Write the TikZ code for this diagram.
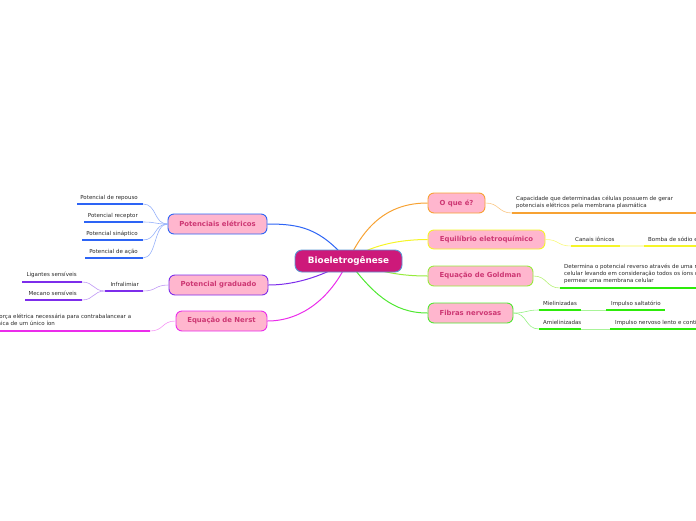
\documentclass[tikz,border=0pt]{standalone}
\usepackage{fontspec}
\setmainfont{DejaVu Sans}
\definecolor{corange}{RGB}{247,162,51}
\definecolor{cyellow}{RGB}{245,245,40}
\definecolor{cgreenA}{RGB}{150,235,60}
\definecolor{cgreenB}{RGB}{80,232,50}
\definecolor{cgreenL}{RGB}{45,235,10}
\definecolor{cblue}{RGB}{45,100,245}
\definecolor{cpurple}{RGB}{125,45,235}
\definecolor{cmagenta}{RGB}{235,45,235}
\definecolor{pinkfill}{RGB}{255,182,206}
\definecolor{maintext}{RGB}{205,55,115}
\definecolor{centralfill}{RGB}{205,25,122}
\definecolor{centralborder}{RGB}{90,150,210}
\definecolor{leaftext}{RGB}{40,40,40}
\begin{document}
\begin{tikzpicture}[x=1pt,y=-1pt,
  mainnode/.style={rounded corners=6pt, fill=pinkfill, line width=0.9pt, minimum height=20pt, text=maintext, font=\fontsize{6.9}{8}\selectfont\bfseries, inner sep=0pt},
  leaf/.style={font=\fontsize{5.5}{6.8}\selectfont, text=leaftext, inner sep=0pt, align=left},
  uline/.style={line width=1.7pt},
  conn/.style={line width=1pt},
  lconn/.style={line width=0.6pt}]
\useasboundingbox (0,0) rectangle (696,520);
\clip (0,0) rectangle (696,520);

% ---------- main nodes ----------
\coordinate (c) at (348,261);
\node[mainnode, draw=corange, minimum width=57pt] (oque) at (456.5,203) {O que é?};
\node[mainnode, draw=cyellow, minimum width=117pt, minimum height=19pt] (equil) at (486.5,239.5) {Equilíbrio eletroquímico};
\node[mainnode, draw=cgreenA, minimum width=105pt] (gold) at (480.5,276) {Equação de Goldman};
\node[mainnode, draw=cgreenB, minimum width=85pt] (fib) at (470.5,313) {Fibras nervosas};
\node[mainnode, draw=cblue, minimum width=99pt] (pot) at (217.5,224) {Potenciais elétricos};
\node[mainnode, draw=cpurple, minimum width=99pt] (grad) at (218.5,285) {Potencial graduado};
\node[mainnode, draw=cmagenta, minimum width=91pt] (nerst) at (221.5,321) {Equação de Nerst};

\draw[conn, corange] (c) .. controls (365,225) and (388,203) .. (oque.west);
\draw[conn, cyellow] (c) .. controls (370,245) and (400,239.5) .. (equil.west);
\draw[conn, cgreenA] (c) .. controls (380,272) and (400,276) .. (gold.west);
\draw[conn, cgreenB] (c) .. controls (372,292) and (392,313) .. (fib.west);
\draw[conn, cblue] (c) .. controls (320,228) and (300,224) .. (pot.east);
\draw[conn, cpurple] (c) .. controls (320,278) and (292,285) .. (grad.east);
\draw[conn, cmagenta] (c) .. controls (330,300) and (300,321) .. (nerst.east);

\node[rounded corners=7pt, fill=centralfill, draw=centralborder, line width=0.9pt, minimum width=107pt, minimum height=22pt, inner sep=0pt, text=white, font=\fontsize{8.8}{10}\selectfont\bfseries] (central) at (348.5,261) {Bioeletrogênese};

% ---------- O que é? ----------
\coordinate (oqa) at (512,213); \coordinate (oqb) at (700,213);
\draw[lconn, corange!60] (oque.east) .. controls +(14,0) and +(-14,0) .. (oqa);
\draw[uline, corange] (oqa) -- (oqb);
\node[leaf, anchor=north west] (oqt) at (516,196.3) {Capacidade que determinadas células possuem de gerar\\potenciais elétricos pela membrana plasmática};

% ---------- Equilibrio ----------
\coordinate (caa) at (571,246); \coordinate (cab) at (620,246);
\coordinate (boa) at (644,246); \coordinate (bob) at (700,246);
\draw[lconn, cyellow!60] (equil.east) .. controls +(14,0) and +(-14,0) .. (caa);
\draw[uline, cyellow] (caa) -- (cab);
\draw[uline, cyellow!30] (cab) -- (boa);
\draw[uline, cyellow] (boa) -- (bob);
\node[leaf, anchor=base west] (cat) at (575,241) {Canais iônicos};
\node[leaf, anchor=base west] (bot) at (648,241) {Bomba de sódio e potássio};

% ---------- Goldman ----------
\coordinate (goa) at (560,288); \coordinate (gob) at (700,288);
\draw[lconn, cgreenA!70] (gold.east) .. controls +(14,0) and +(-14,0) .. (goa);
\draw[uline, cgreenL] (goa) -- (gob);
\node[leaf, anchor=north west] (got) at (564,264.3) {Determina o potencial reverso através de uma membrana\\celular levando em consideração todos os íons capazes de\\permear uma membrana celular};

% ---------- Fibras ----------
\coordinate (mia) at (539,310); \coordinate (mib) at (581,310);
\coordinate (saa) at (606,310); \coordinate (sab) at (665,310);
\coordinate (ama) at (539,329); \coordinate (amb) at (581,329);
\coordinate (lea) at (610,329); \coordinate (leb) at (700,329);
\draw[lconn, cgreenB!60] (fib.east) .. controls +(14,0) and +(-14,0) .. (mia);
\draw[lconn, cgreenB!60] (fib.east) .. controls +(14,0) and +(-14,0) .. (ama);
\draw[uline, cgreenL] (mia) -- (mib);
\draw[lconn, cgreenB!50] (mib) -- (saa);
\draw[uline, cgreenL] (saa) -- (sab);
\draw[uline, cgreenL] (ama) -- (amb);
\draw[lconn, cgreenB!50] (amb) -- (lea);
\draw[uline, cgreenL] (lea) -- (leb);
\node[leaf, anchor=base west] (mit) at (543,305) {Mielinizadas};
\node[leaf, anchor=base west] (sat) at (611,305) {Impulso saltatório};
\node[leaf, anchor=base west] (amt) at (543,324) {Amielinizadas};
\node[leaf, anchor=base west] (let) at (615,324) {Impulso nervoso lento e contínuo};

% ---------- Potenciais eletricos ----------
\coordinate (p1a) at (77,204); \coordinate (p1b) at (143,204);
\coordinate (p2a) at (84,222); \coordinate (p2b) at (143,222);
\coordinate (p3a) at (82,240); \coordinate (p3b) at (143,240);
\coordinate (p4a) at (85,258); \coordinate (p4b) at (143,258);
\foreach \i in {1,2,3,4}{
  \draw[lconn, cblue!50] (pot.west) .. controls +(-14,0) and +(14,0) .. (p\i b);
  \draw[uline, cblue] (p\i a) -- (p\i b);
}
\node[leaf, anchor=base east] (p1t) at (138,199) {Potencial de repouso};
\node[leaf, anchor=base east] (p2t) at (138,217) {Potencial receptor};
\node[leaf, anchor=base east] (p3t) at (138,235) {Potencial sináptico};
\node[leaf, anchor=base east] (p4t) at (138,253) {Potencial de ação};

% ---------- Potencial graduado ----------
\coordinate (ina) at (105,291); \coordinate (inb) at (143,291);
\coordinate (lia) at (22,282); \coordinate (lib) at (82,282);
\coordinate (mea) at (25,300); \coordinate (meb) at (82,300);
\draw[lconn, cpurple!50] (grad.west) .. controls +(-14,0) and +(14,0) .. (inb);
\draw[uline, cpurple] (ina) -- (inb);
\draw[lconn, cpurple!50] (ina) .. controls +(-12,0) and +(12,0) .. (lib);
\draw[lconn, cpurple!50] (ina) .. controls +(-12,0) and +(12,0) .. (meb);
\draw[uline, cpurple] (lia) -- (lib);
\draw[uline, cpurple] (mea) -- (meb);
\node[leaf, anchor=base east] (int) at (139,286) {Infralimiar};
\node[leaf, anchor=base east] (lit) at (77,276) {Ligantes sensíveis};
\node[leaf, anchor=base east] (met) at (77,295) {Mecano sensíveis};

% ---------- Nerst ----------
\coordinate (nea) at (-5,331); \coordinate (neb) at (150,331);
\draw[lconn, cmagenta!50] (nerst.west) .. controls +(-14,0) and +(14,0) .. (neb);
\draw[uline, cmagenta] (nea) -- (neb);
\node[leaf, anchor=north west] (net) at (-13,313.3) {É a força elétrica necessária para contrabalancear a\\química de um único íon};
\end{tikzpicture}
\end{document}
